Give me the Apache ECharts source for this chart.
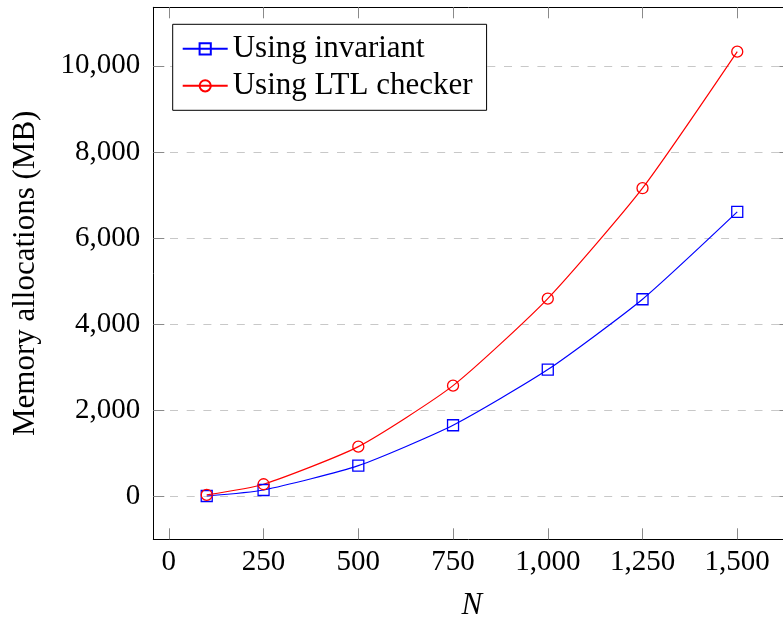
<!DOCTYPE html>
<html>
<head>
<meta charset="utf-8">
<script src="https://cdn.jsdelivr.net/npm/echarts@6/dist/echarts.min.js"></script>
<style>html,body{margin:0;padding:0;background:#fff;overflow:hidden}#c{width:783px;height:619px}</style>
</head>
<body>
<div id="c"></div>
<script>
const nValues = [100, 250, 500, 750, 1000, 1250, 1500];
const invariantMB = [15, 155, 720, 1658, 2949, 4583, 6610];
const ltlCheckerMB = [40, 288, 1161, 2577, 4597, 7160, 10330];
const xTicks = [0, 250, 500, 750, 1000, 1250, 1500];
const yTicks = [0, 2000, 4000, 6000, 8000, 10000];
const seriesNames = ['Using invariant', 'Using LTL checker'];

const FONT = "'Liberation Serif', 'DejaVu Serif', serif";
const FS = 29;
const FS2 = 31;
const fmt = v => Number(v).toLocaleString('en-US');

const chart = echarts.init(document.getElementById('c'), null, {renderer: 'canvas', width: 783, height: 619});
const tickStyle = {color: '#8a8a8a', width: 1};
chart.setOption({
  animation: false,
  backgroundColor: '#fff',
  grid: {left: 153.3, top: 7.3, width: 637, height: 532, containLabel: false, outerBoundsMode: 'none'},
  legend: {
    orient: 'vertical', left: 172.7, top: 24.3,
    backgroundColor: '#fff', borderColor: '#000', borderWidth: 1,
    padding: [9, 14, 9, 9],
    itemWidth: 45, itemHeight: 14, itemGap: 6,
    textStyle: {fontFamily: FONT, fontSize: FS2, color: '#000', lineHeight: 29},
    data: seriesNames
  },
  xAxis: [{
    type: 'value', min: -41, max: 1640, position: 'bottom',
    name: 'N', nameLocation: 'middle', nameGap: 51,
    nameTextStyle: {fontFamily: FONT, fontSize: FS2, fontStyle: 'italic', color: '#000'},
    axisLine: {show: true, onZero: false, lineStyle: {color: '#000', width: 1}},
    axisTick: {show: true, inside: true, length: 11, lineStyle: tickStyle, customValues: xTicks},
    axisLabel: {show: true, margin: 9, fontFamily: FONT, fontSize: FS, color: '#000', formatter: fmt, customValues: xTicks},
    splitLine: {show: false}
  }, {
    type: 'value', min: -41, max: 1640, position: 'top',
    axisLine: {show: true, onZero: false, lineStyle: {color: '#000', width: 1}},
    axisTick: {show: true, inside: true, length: 11, lineStyle: tickStyle, customValues: xTicks},
    axisLabel: {show: false},
    splitLine: {show: false}
  }],
  yAxis: [{
    type: 'value', min: -990, max: 11360, position: 'left',
    name: 'Memory allocations (MB)', nameLocation: 'middle', nameGap: 112, nameRotate: 90,
    nameTextStyle: {fontFamily: FONT, fontSize: FS2, color: '#000'},
    axisLine: {show: true, onZero: false, lineStyle: {color: '#000', width: 1}},
    axisTick: {show: true, inside: true, length: 11, lineStyle: tickStyle, customValues: yTicks},
    axisLabel: {show: true, margin: 13, fontFamily: FONT, fontSize: FS, color: '#000', formatter: fmt, customValues: yTicks},
    splitLine: {show: true, lineStyle: {color: '#c8c8c8', width: 1, type: [8, 8.7]}}
  }, {
    type: 'value', min: -990, max: 11360, position: 'right',
    axisLine: {show: false, onZero: false},
    axisTick: {show: true, inside: true, length: 11, lineStyle: tickStyle, customValues: yTicks},
    axisLabel: {show: false},
    splitLine: {show: false}
  }],
  series: [{
    name: seriesNames[0], type: 'line', smooth: 0.2,
    data: nValues.map((n, i) => [n, invariantMB[i]]),
    symbol: 'rect', symbolSize: 11,
    lineStyle: {color: '#0000ff', width: 1.2},
    itemStyle: {color: 'rgba(0,0,0,0)', borderColor: '#0000ff', borderWidth: 1.3},
    z: 3
  }, {
    name: seriesNames[1], type: 'line', smooth: 0.2,
    data: nValues.map((n, i) => [n, ltlCheckerMB[i]]),
    symbol: 'circle', symbolSize: 11,
    lineStyle: {color: '#ff0000', width: 1.2},
    itemStyle: {color: 'rgba(0,0,0,0)', borderColor: '#ff0000', borderWidth: 1.3},
    z: 3
  }]
});
</script>
</body>
</html>
